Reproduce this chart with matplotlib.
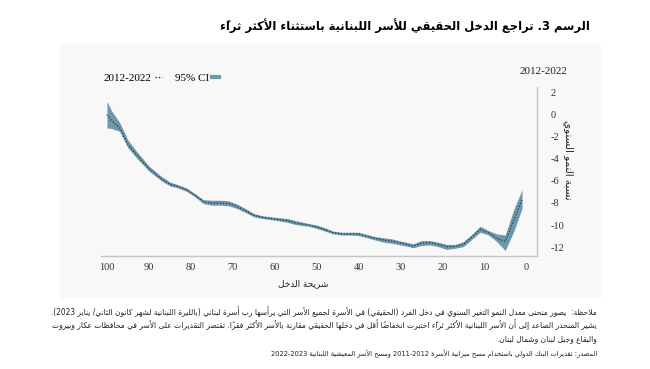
import re

import matplotlib
matplotlib.use("Agg")
import matplotlib.pyplot as plt
from matplotlib.lines import Line2D
from matplotlib.patches import Rectangle

plt.rcParams["axes.unicode_minus"] = False

# ---- data (income percentile, annual growth %) ----
percentile = [100, 99, 97, 95, 93, 90, 87, 85, 83, 81, 79, 77, 75, 73, 71, 69, 67, 65,
              63, 60, 57, 55, 52, 50, 48, 46, 44, 42, 40, 38, 36, 34, 32, 30, 28, 27,
              25, 23, 21, 19, 17, 15, 13, 11, 9, 7, 5, 3, 1]
growth = [0.0, -0.5, -1.2, -2.7, -3.6, -4.9, -5.8, -6.3, -6.5, -6.8, -7.3, -7.9, -8.0,
          -8.0, -8.05, -8.3, -8.7, -9.1, -9.3, -9.45, -9.6, -9.8, -10.0, -10.15, -10.4,
          -10.7, -10.8, -10.8, -10.8, -11.0, -11.2, -11.35, -11.45, -11.6, -11.8, -11.9,
          -11.65, -11.6, -11.75, -11.95, -11.95, -11.75, -11.1, -10.4, -10.7, -11.2,
          -11.5, -9.6, -7.7]
ci_low = [-1.2, -1.25, -1.5, -3.0, -3.9, -5.1, -6.0, -6.45, -6.65, -6.95, -7.45, -8.05,
          -8.2, -8.2, -8.25, -8.5, -8.85, -9.25, -9.4, -9.55, -9.75, -9.95, -10.1, -10.3,
          -10.55, -10.8, -10.9, -10.9, -10.95, -11.15, -11.35, -11.55, -11.65, -11.8,
          -11.95, -12.05, -11.85, -11.8, -11.95, -12.2, -12.1, -11.95, -11.3, -10.65,
          -10.9, -11.5, -12.3, -10.6, -8.5]
ci_high = [1.2, 0.4, -0.7, -2.3, -3.3, -4.65, -5.6, -6.1, -6.35, -6.65, -7.15, -7.7,
           -7.75, -7.75, -7.8, -8.1, -8.5, -8.95, -9.15, -9.3, -9.4, -9.6, -9.85, -10.0,
           -10.25, -10.55, -10.65, -10.65, -10.65, -10.85, -11.05, -11.15, -11.25, -11.45,
           -11.6, -11.7, -11.4, -11.4, -11.55, -11.75, -11.75, -11.5, -10.85, -10.1,
           -10.5, -10.8, -10.9, -8.6, -6.8]
y_ticks = [2, 0, -2, -4, -6, -8, -10, -12]
x_ticks = [100, 90, 80, 70, 60, 50, 40, 30, 20, 10, 0]

title = "الرسم 3. تراجع الدخل الحقيقي للأسر اللبنانية باستثناء الأكثر ثراءً"
ylabel = "نسبة النمو السنوي"
xlabel = "شريحة الدخل"
period = "2012-2022"
note_lines = [
    "ملاحظة:  يصور منحنى معدل النمو التغير السنوي في دخل الفرد (الحقيقي) في الأسرة لجميع الأسر التي يرأسها رب أسرة لبناني (بالليرة اللبنانية لشهر كانون الثاني/ يناير 2023).",
    "يشير المنحدر الصاعد إلى أن الأسر اللبنانية الأكثر ثراءً اختبرت انخفاضاً أقل في دخلها الحقيقي مقارنة بالأسر الأكثر فقراً. تقتصر التقديرات على الأسر في محافظات عكار وبيروت",
    "والبقاع وجبل لبنان وشمال لبنان.",
]
source = "المصدر: تقديرات البنك الدولي باستخدام مسح ميزانية الأسرة 2011-2012 ومسح الأسر المعيشية اللبنانية 2022-2023"

BAND = "#6f98aa"
LINE = "#1d3450"

# ---- minimal Arabic shaping + visual ordering (matplotlib has no RTL layout) ----
_DUAL = dict(zip("ئبتثجحخسشصضطظعغفقكلمنهي",
                 [0xFE89, 0xFE8F, 0xFE95, 0xFE99, 0xFE9D, 0xFEA1, 0xFEA5, 0xFEB1,
                  0xFEB5, 0xFEB9, 0xFEBD, 0xFEC1, 0xFEC5, 0xFEC9, 0xFECD, 0xFED1,
                  0xFED5, 0xFED9, 0xFEDD, 0xFEE1, 0xFEE5, 0xFEE9, 0xFEF1]))
_RIGHT = dict(zip("آأؤإاةدذرزوى",
                  [0xFE81, 0xFE83, 0xFE85, 0xFE87, 0xFE8D, 0xFE93, 0xFEA9, 0xFEAB,
                   0xFEAD, 0xFEAF, 0xFEED, 0xFEEF]))
_LAMALEF = {"آ": 0xFEF5, "أ": 0xFEF7, "إ": 0xFEF9, "ا": 0xFEFB}
_MARKS = "\u064b\u064c\u064d\u064e\u064f\u0650\u0651\u0652"
_MIRROR = str.maketrans("()", ")(")


def shape(s):
    toks = []
    i = 0
    while i < len(s):
        if s[i] == "ل" and i + 1 < len(s) and s[i + 1] in _LAMALEF:
            toks.append(s[i:i + 2])
            i += 2
        else:
            toks.append(s[i])
            i += 1

    def letter(t):
        return len(t) == 2 or t in _DUAL or t in _RIGHT

    out = []
    for k, t in enumerate(toks):
        if not letter(t):
            out.append(t)
            continue
        p = k - 1
        while p >= 0 and toks[p] in _MARKS:
            p -= 1
        q = k + 1
        while q < len(toks) and toks[q] in _MARKS:
            q += 1
        jp = int(p >= 0 and toks[p] in _DUAL)
        jn = int(t in _DUAL and q < len(toks) and letter(toks[q]))
        if len(t) == 2:
            out.append(chr(_LAMALEF[t[1]] + jp))
        elif t in _RIGHT:
            out.append(chr(_RIGHT[t] + jp))
        else:
            out.append(chr(_DUAL[t] + jp + 2 * jn))
    return "".join(out)


def ar(s):
    runs = re.findall(r"[0-9A-Za-z](?:[0-9A-Za-z.\-/%]*[0-9A-Za-z%])?|[^0-9A-Za-z]+", shape(s))
    out = []
    for r in reversed(runs):
        if r[0].isascii() and r[0].isalnum():
            out.append(r)
        else:
            clusters = re.findall(r".[\u064b-\u0652]*", r)
            out.append("".join(clusters[::-1]).translate(_MIRROR))
    return "".join(out)


def fit(fig, txt, width_px, vertical=False):
    """DejaVu's Arabic is wider than the reference font: scale to a target extent."""
    bb = txt.get_window_extent(fig.canvas.get_renderer())
    span = bb.height if vertical else bb.width
    txt.set_fontsize(txt.get_fontsize() * width_px / span)
    return txt.get_fontsize()


AR_FONT = ["DejaVu Sans"]
NUM_FONT = ["Liberation Serif", "DejaVu Sans"]


def main():
    fig = plt.figure(figsize=(6.5, 3.69), dpi=100)
    fig.patches.append(Rectangle((60 / 650, 1 - 297 / 369), 540 / 650, 252 / 369,
                                 transform=fig.transFigure, color="#f8f8f8", zorder=-1))

    ax = fig.add_axes([0.1549, 0.3062, 0.6708, 0.458])
    ax.set_facecolor("none")

    ax.fill_between(percentile, ci_low, ci_high, color=BAND, lw=0, zorder=2)
    ax.plot(percentile, growth, color=LINE, lw=0.9, ls=(0, (1, 1.4)), zorder=3)

    ax.set_xlim(101.5, -2.5)
    ax.set_ylim(-12.8, 2.5)
    ax.yaxis.tick_right()
    ax.set_yticks(y_ticks)
    ax.set_xticks(x_ticks)
    ax.tick_params(length=0, labelsize=7.5, colors="#333333")
    ax.tick_params(axis="y", pad=10)
    ax.tick_params(axis="x", pad=5)
    for lab in ax.get_xticklabels() + ax.get_yticklabels():
        lab.set_family(NUM_FONT)
    for side in ("top", "left"):
        ax.spines[side].set_visible(False)
    for side in ("bottom", "right"):
        ax.spines[side].set_color("#c4c4c4")
        ax.spines[side].set_linewidth(1.0)

    handles = [Line2D([], [], color=LINE, lw=1.0, ls=(0, (1, 1.4))),
               Line2D([], [], color=BAND, lw=3.0)]
    ax.legend(handles, [period, "95% CI"], markerfirst=False, ncol=2, frameon=False,
              loc="center left", bbox_to_anchor=(94 / 650, 1 - 78 / 369),
              bbox_transform=fig.transFigure, handlelength=0.7, handletextpad=0.25,
              columnspacing=1.1, prop={"family": NUM_FONT, "size": 8})

    t = fig.text(590 / 650, 1 - 26 / 369, ar(title), ha="right", va="center",
                 fontsize=10, fontweight="bold", family=AR_FONT)
    fit(fig, t, 370)
    fig.text(543 / 650, 1 - 71 / 369, period, ha="center", va="center",
             fontsize=8, family=NUM_FONT, color="#222222")
    t = fig.text(568 / 650, 1 - 160 / 369, ar(ylabel), rotation=270, ha="center",
                 va="center", fontsize=8, family=AR_FONT, color="#222222")
    fit(fig, t, 80, vertical=True)
    t = fig.text(303 / 650, 1 - 284 / 369, ar(xlabel), ha="center", va="center",
                 fontsize=8, family=AR_FONT, color="#222222")
    fit(fig, t, 50)

    notes = [fig.text(597 / 650, 1 - (312 + 13.5 * i) / 369, ar(line), ha="right",
                      va="center", fontsize=6, family=AR_FONT, color="#222222")
             for i, line in enumerate(note_lines)]
    size = fit(fig, notes[1], 545)
    for n in notes:
        n.set_fontsize(size)
    t = fig.text(597 / 650, 1 - 354 / 369, ar(source), ha="right", va="center",
                 fontsize=6, family=AR_FONT, color="#222222")
    fit(fig, t, 330)

    fig.savefig("out.png", dpi=100)
    plt.close(fig)


if __name__ == "__main__":
    main()
